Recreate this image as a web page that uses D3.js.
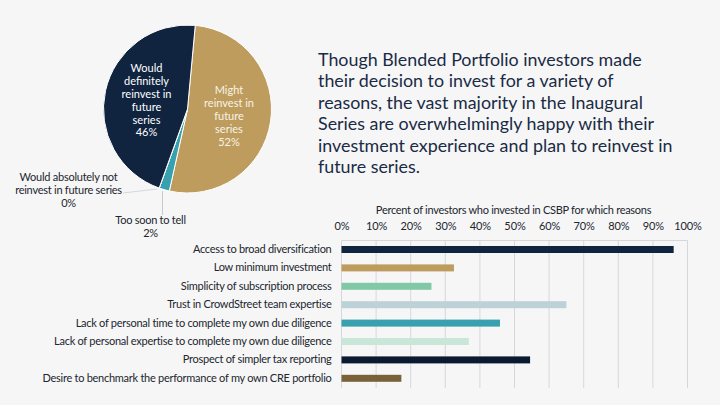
<!DOCTYPE html>
<html>
<head>
<meta charset="utf-8">
<script src="https://cdn.jsdelivr.net/npm/d3@7"></script>
<style>
  html, body { margin: 0; padding: 0; background: #f6f6f7; }
  svg { display: block; font-family: Lato, sans-serif; }
  .axis path { display: none; }
  .axis line { stroke: #d5d8db; }
  .axis text { fill: #22262d; font-family: Lato, sans-serif; }
</style>
</head>
<body>
<svg id="chart" width="720" height="405"></svg>
<script>
const pieNames = ["Might reinvest in future series", "Too soon to tell", "Would absolutely not reinvest in future series", "Would definitely reinvest in future series"];
const pieValues = [52, 2, 0, 46];

const reasons = [
	"Access to broad diversification",
	"Low minimum investment",
	"Simplicity of subscription process",
	"Trust in CrowdStreet team expertise",
	"Lack of personal time to complete my own due diligence",
	"Lack of personal expertise to complete my own due diligence",
	"Prospect of simpler tax reporting",
	"Desire to benchmark the performance of my own CRE portfolio",
];
const reasonValues = [96, 32.5, 26, 65, 45.8, 36.8, 54.5, 17.3];
const percentTicks = [0, 10, 20, 30, 40, 50, 60, 70, 80, 90, 100];

const headline = [
	"Though Blended Portfolio investors made",
	"their decision to invest for a variety of",
	"reasons, the vast majority in the Inaugural",
	"Series are overwhelmingly happy with their",
	"investment experience and plan to reinvest in",
	"future series.",
];
const barTitle = "Percent of investors who invested in CSBP for which reasons";

const pieColors = ["#bd9c5e", "#38a0ae", "#7a6238", "#10233f"];
const barColors = ["#10233f", "#bd9c5e", "#80c8a6", "#bcd2d6", "#38a0ae", "#c9e7d9", "#0b1a30", "#7a6238"];
const textColor = "#22262d";

const svg = d3.select("#chart");

// pie
const cx = 187.5, cy = 109, radius = 84;
const startAngle = 5.3 * Math.PI / 180;
const pie = d3.pie().sort(null).startAngle(startAngle).endAngle(startAngle + 2 * Math.PI);
const arcs = pie(pieValues);
const arc = d3.arc().innerRadius(0).outerRadius(radius);
const pieG = svg.append("g").attr("transform", `translate(${cx},${cy})`);

pieG.selectAll("path")
	.data(arcs)
	.enter()
	.append("path")
	.attr("d", arc)
	.attr("fill", (d, i) => pieColors[i])
	.attr("stroke", "#ffffff")
	.attr("stroke-width", 1);

// labels inside big slices
const insideLines = {
	0: ["Might", "reinvest in", "future", "series", "52%"],
	3: ["Would", "definitely", "reinvest in", "future", "series", "46%"],
};
const labelArc = d3.arc().innerRadius(42).outerRadius(42);
Object.keys(insideLines).forEach((k) => {
	const c = labelArc.centroid(arcs[k]);
	const lines = insideLines[k];
	const t = pieG.append("text")
		.attr("text-anchor", "middle")
		.attr("fill", k == 0 ? "#f8f3e6" : "#ffffff")
		.attr("font-size", 11);
	lines.forEach((s, j) => {
		t.append("tspan")
			.attr("x", c[0])
			.attr("y", c[1] + (j - (lines.length - 1) / 2) * 12.8 + 4.5)
			.text(s);
	});
});

// outside labels with leader lines
svg.append("path")
	.attr("d", "M123,193 L157,189")
	.attr("stroke", "#d5d8db")
	.attr("fill", "none");
svg.append("path")
	.attr("d", "M162.5,191 L162.5,215")
	.attr("stroke", "#c8cbce")
	.attr("fill", "none");

function outsideLabel(lines, x, y) {
	const t = svg.append("text")
		.attr("text-anchor", "middle")
		.attr("fill", textColor)
		.attr("font-size", 11)
		.attr("letter-spacing", -0.25);
	lines.forEach((s, j) => {
		t.append("tspan").attr("x", x).attr("y", y + j * 13).text(s);
	});
}
outsideLabel(["Would absolutely not", "reinvest in future series", "0%"], 68.5, 181);
outsideLabel(["Too soon to tell", "2%"], 150.5, 224);

// headline
svg.append("g")
	.selectAll("text")
	.data(headline)
	.enter()
	.append("text")
	.attr("x", 318)
	.attr("y", (d, i) => 65.5 + i * 21.5)
	.attr("fill", "#1a2b45")
	.attr("font-size", 17.85)
	.text((d) => d);

// bars
const x = d3.scaleLinear().domain([0, 100]).range([341.5, 687.5]);
const y = d3.scaleBand().domain(reasons).range([240.3, 387.5]).paddingInner(0.62).paddingOuter(0.31);

svg.append("text")
	.attr("x", 513.5)
	.attr("y", 214)
	.attr("text-anchor", "middle")
	.attr("fill", textColor)
	.attr("font-size", 11)
	.attr("letter-spacing", -0.28)
	.text(barTitle);

// gridlines and top axis
const gridAxis = svg.append("g")
	.attr("class", "axis")
	.attr("transform", "translate(0,240.5)")
	.call(d3.axisTop(x).tickValues(percentTicks).tickFormat((d) => d + "%").tickSize(0).tickPadding(11));
gridAxis.selectAll("text").attr("font-size", 11).attr("letter-spacing", -0.1);

svg.append("g")
	.selectAll("line")
	.data(percentTicks)
	.enter()
	.append("line")
	.attr("x1", (d) => x(d))
	.attr("x2", (d) => x(d))
	.attr("y1", 240.5)
	.attr("y2", 388)
	.attr("stroke", "#d5d8db");
svg.append("line")
	.attr("x1", x(0))
	.attr("x2", x(100))
	.attr("y1", 240.5)
	.attr("y2", 240.5)
	.attr("stroke", "#d5d8db");

svg.append("g")
	.selectAll("rect")
	.data(reasons)
	.enter()
	.append("rect")
	.attr("x", x(0))
	.attr("y", (d) => y(d))
	.attr("width", (d, i) => x(reasonValues[i]) - x(0))
	.attr("height", y.bandwidth())
	.attr("fill", (d, i) => barColors[i]);

const yAxis = svg.append("g")
	.attr("class", "axis")
	.attr("transform", "translate(341.5,0)")
	.call(d3.axisLeft(y).tickSize(0).tickPadding(10));
yAxis.selectAll("text").attr("font-size", 11).attr("letter-spacing", -0.27);
</script>
</body>
</html>
